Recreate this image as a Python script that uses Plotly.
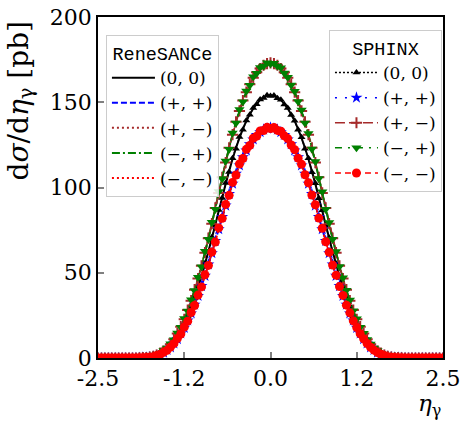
import numpy as np
import plotly.graph_objects as go

# ---------------- data ----------------
# ReneSANCe curves on a 0.1 grid in eta_gamma
eta_line = np.round(np.arange(-2.5, 2.5001, 0.1), 2)
Z6 = [0.0] * 6
rs_00 = Z6 + [0.08, 0.3, 0.9, 2.5, 5.2, 9.7, 16.3, 24.9, 35.6, 48.0, 62.5, 78.2, 94.2, 109.6, 123.2, 134.3, 142.9, 149.1, 152.8,
              154.0,
              152.8, 149.1, 142.9, 134.3, 123.2, 109.6, 94.2, 78.2, 62.5, 48.0, 35.6, 24.9, 16.3, 9.7, 5.2, 2.5, 0.9, 0.3, 0.08] + Z6
rs_pp = Z6 + [0.07, 0.27, 0.8, 2.2, 4.6, 8.5, 14.3, 21.9, 31.2, 42.1, 54.8, 68.6, 82.6, 96.1, 108.0, 117.7, 125.3, 130.7, 133.9,
              135.0,
              133.9, 130.7, 125.3, 117.7, 108.0, 96.1, 82.6, 68.6, 54.8, 42.1, 31.2, 21.9, 14.3, 8.5, 4.6, 2.2, 0.8, 0.27, 0.07] + Z6
rs_pm = Z6 + [0.09, 0.35, 1.0, 2.8, 5.9, 10.9, 18.3, 28.0, 40.0, 54.0, 70.2, 87.9, 105.9, 123.2, 138.4, 150.9, 160.5, 167.5, 171.6,
              173.0,
              171.6, 167.5, 160.5, 150.9, 138.4, 123.2, 105.9, 87.9, 70.2, 54.0, 40.0, 28.0, 18.3, 10.9, 5.9, 2.8, 1.0, 0.35, 0.09] + Z6
rs_mp = Z6 + [0.09, 0.35, 1.0, 2.8, 5.9, 10.8, 18.2, 27.9, 39.9, 53.9, 70.1, 87.8, 105.8, 123.1, 138.3, 150.8, 160.4, 167.3, 171.4,
              172.8,
              171.4, 167.3, 160.4, 150.8, 138.3, 123.1, 105.8, 87.8, 70.1, 53.9, 39.9, 27.9, 18.2, 10.8, 5.9, 2.8, 1.0, 0.35, 0.09] + Z6
rs_mm = Z6 + [0.07, 0.27, 0.8, 2.2, 4.6, 8.4, 14.2, 21.8, 31.1, 42.0, 54.7, 68.5, 82.5, 96.0, 107.9, 117.5, 125.1, 130.5, 133.7,
              134.8,
              133.7, 130.5, 125.1, 117.5, 107.9, 96.0, 82.5, 68.5, 54.7, 42.0, 31.1, 21.8, 14.2, 8.4, 4.6, 2.2, 0.8, 0.27, 0.07] + Z6

# SPHINX points on a 0.05 grid in eta_gamma
eta_pts = np.round(np.arange(-2.5, 2.5001, 0.05), 2)
Z12 = [0.0] * 12
sp_00 = Z12 + [0.1, 0.2, 0.3, 0.5, 0.9, 1.6, 2.4, 3.8, 5.1, 7.4, 9.6, 13.1, 16.0, 20.6, 24.6, 30.4, 35.2, 42.0, 47.6,
               55.6, 62.1, 70.8, 77.7, 86.8, 93.8, 102.6, 109.1, 117.2, 122.8, 129.6, 133.9, 139.3, 142.6, 146.7, 148.8,
               151.6, 152.5, 154.1, 153.6, 154.0, 152.4, 151.5, 148.7, 146.6, 142.5, 139.2, 133.8, 129.5, 122.7, 117.1,
               109.0, 102.5, 93.7, 86.6, 77.6, 70.6, 62.0, 55.4, 47.5, 41.9, 35.1, 30.3, 24.5, 20.5, 15.9, 13.0, 9.5, 7.3,
               5.0, 3.8, 2.4, 1.6, 0.9, 0.5, 0.3, 0.2, 0.1] + Z12
sp_pp = Z12 + [0.1, 0.2, 0.3, 0.5, 0.8, 1.4, 2.3, 3.1, 4.7, 6.2, 8.6, 11.1, 14.4, 17.7, 22.0, 26.2, 31.3, 36.4, 42.2,
               48.2, 54.9, 61.5, 68.7, 75.5, 82.7, 89.4, 96.2, 102.2, 108.1, 113.0, 117.8, 121.7, 125.4, 128.2, 130.8,
               132.5, 134.0, 134.6, 135.1, 134.6, 134.0, 132.5, 130.8, 128.2, 125.4, 121.7, 117.8, 113.0, 108.1, 102.2,
               96.2, 89.4, 82.7, 75.5, 68.7, 61.5, 54.9, 48.2, 42.2, 36.4, 31.3, 26.2, 22.0, 17.7, 14.4, 11.1, 8.6, 6.2,
               4.7, 3.1, 2.3, 1.4, 0.8, 0.5, 0.3, 0.2, 0.1] + Z12
sp_pm = Z12 + [0.1, 0.2, 0.3, 0.6, 1.0, 1.7, 2.9, 4.1, 6.0, 8.0, 11.0, 14.3, 18.4, 22.7, 28.1, 33.6, 40.1, 46.6, 54.1,
               61.8, 70.3, 78.8, 88.0, 96.8, 106.0, 114.6, 123.3, 131.0, 138.5, 144.9, 151.0, 155.9, 160.6, 164.3, 167.6,
               169.8, 171.7, 172.6, 173.1, 172.6, 171.7, 169.8, 167.6, 164.3, 160.6, 155.9, 151.0, 144.9, 138.5, 131.0,
               123.3, 114.6, 106.0, 96.8, 88.0, 78.8, 70.3, 61.8, 54.1, 46.6, 40.1, 33.6, 28.1, 22.7, 18.4, 14.3, 11.0, 8.0,
               6.0, 4.1, 2.9, 1.7, 1.0, 0.6, 0.3, 0.2, 0.1] + Z12
sp_mp = Z12 + [0.1, 0.2, 0.4, 0.6, 1.1, 1.8, 2.7, 4.4, 5.8, 8.3, 10.7, 14.7, 18.0, 23.2, 27.6, 34.2, 39.6, 47.3, 53.5,
               62.6, 69.6, 79.6, 87.2, 97.7, 105.2, 115.5, 122.5, 131.9, 137.8, 145.7, 150.3, 156.6, 160.0, 164.9, 167.0,
               170.4, 171.2, 173.1, 172.6, 172.9, 171.3, 170.2, 167.1, 164.7, 160.1, 156.4, 150.4, 145.5, 137.9, 131.7,
               122.6, 115.3, 105.3, 97.5, 87.3, 79.4, 69.7, 62.4, 53.6, 47.1, 39.7, 34.0, 27.7, 23.0, 18.1, 14.5, 10.8, 8.2,
               5.8, 4.3, 2.7, 1.8, 1.0, 0.6, 0.4, 0.2, 0.1] + Z12
sp_mm = Z12 + [0.1, 0.1, 0.3, 0.5, 0.8, 1.5, 2.1, 3.3, 4.5, 6.4, 8.4, 11.4, 14.1, 18.1, 21.6, 26.7, 30.8, 36.9, 41.7,
               48.8, 54.3, 62.2, 68.0, 76.3, 81.9, 90.1, 95.4, 103.0, 107.3, 113.8, 117.0, 122.4, 124.7, 128.9, 130.1,
               133.2, 133.4, 135.3, 134.6, 135.2, 133.5, 133.0, 130.3, 128.7, 124.9, 122.2, 117.2, 113.6, 107.5, 102.8,
               95.6, 89.9, 82.1, 76.1, 68.2, 62.0, 54.5, 48.6, 41.9, 36.7, 31.0, 26.5, 21.8, 17.9, 14.2, 11.3, 8.5, 6.3,
               4.6, 3.2, 2.2, 1.4, 0.8, 0.5, 0.3, 0.1, 0.1] + Z12

labels = ["(0, 0)", "(+, +)", "(+, \u2212)", "(\u2212, +)", "(\u2212, \u2212)"]
x_tickvals = [-2.5, -1.25, 0.0, 1.25, 2.5]
x_ticktext = ["-2.5", "-1.2", "0.0", "1.2", "2.5"]
y_tickvals = [0, 50, 100, 150, 200]

# ---------------- figure ----------------
fig = go.Figure()

line_styles = [
    ("black", "solid"),
    ("#0000ff", "6px,3px"),
    ("#a52a2a", "2px,3px"),
    ("#008000", "8px,3px,2px,3px"),
    ("#ff0000", "2px,3px"),
]
for lab, ys, (col, dash) in zip(labels, [rs_00, rs_pp, rs_pm, rs_mp, rs_mm], line_styles):
    fig.add_trace(go.Scatter(
        x=eta_line, y=ys, mode="lines", name=lab, legend="legend",
        line=dict(color=col, dash=dash, width=2, shape="spline"),
    ))

pt_styles = [
    ("black", "2px,2px", "triangle-up", 7),
    ("#0000ff", "2px,8px", "star", 9),
    ("#a52a2a", "10px,4px", "cross-thin", 8),
    ("#008000", "7px,6px,2px,6px", "triangle-down", 9),
    ("#ff0000", "6px,4px", "circle", 9),
]
for lab, ys, (col, dash, sym, sz) in zip(labels, [sp_00, sp_pp, sp_pm, sp_mp, sp_mm], pt_styles):
    fig.add_trace(go.Scatter(
        x=eta_pts, y=ys, mode="lines+markers", name=lab, legend="legend2",
        line=dict(color=col, dash=dash, width=1.5),
        marker=dict(color=col, symbol=sym, size=sz, line=dict(color=col, width=2 if sym == "cross-thin" else 0)),
    ))

tick_font = dict(family="DejaVu Serif", size=22, color="black")
leg_font = dict(family="DejaVu Serif", size=17, color="black")
title_font = dict(family="Liberation Mono", size=18.5, color="black")

fig.update_layout(
    width=463, height=421,
    margin=dict(l=98, r=20, t=17, b=63),
    plot_bgcolor="white", paper_bgcolor="white",
    xaxis=dict(range=[-2.5, 2.5], tickvals=x_tickvals, ticktext=x_ticktext, tickfont=tick_font,
               showgrid=False, zeroline=False, showline=True, linecolor="black", linewidth=1.5, mirror=True,
               ticks="inside", ticklen=6, tickcolor="gray", tickwidth=1.5, automargin=False),
    yaxis=dict(range=[0, 200], tickvals=y_tickvals, tickfont=tick_font,
               showgrid=False, zeroline=False, showline=True, linecolor="black", linewidth=1.5, mirror=True,
               ticks="inside", ticklen=6, tickcolor="gray", tickwidth=1.5, automargin=False),
    legend=dict(x=0.023, y=0.947, xanchor="left", yanchor="top", font=leg_font, itemwidth=43,
                title=dict(text="ReneSANCe", font=title_font, side="top center"),
                bgcolor="rgba(255,255,255,0.85)", bordercolor="#cccccc", borderwidth=1),
    legend2=dict(x=0.997, y=0.962, xanchor="right", yanchor="top", font=leg_font, itemwidth=43,
                 title=dict(text="SPHINX", font=title_font, side="top center"),
                 bgcolor="rgba(255,255,255,0.85)", bordercolor="#cccccc", borderwidth=1),
    annotations=[
        dict(text="d<i>\u03c3</i>/d<i>\u03b7</i><sub>\u03b3</sub> [pb]", xref="paper", yref="paper",
             x=0, y=1, xanchor="right", yanchor="top", xshift=-58, yshift=-2, textangle=-90, showarrow=False,
             font=dict(family="DejaVu Serif", size=28, color="black")),
        dict(text="<i>\u03b7</i><sub>\u03b3</sub>", xref="paper", yref="paper",
             x=1, y=0, xanchor="right", yanchor="top", yshift=-30, showarrow=False,
             font=dict(family="DejaVu Serif", size=23, color="black")),
    ],
)

fig.write_html("out.html", config={"displayModeBar": False},
               post_script="document.body.style.margin='0';document.body.style.overflow='hidden';")
